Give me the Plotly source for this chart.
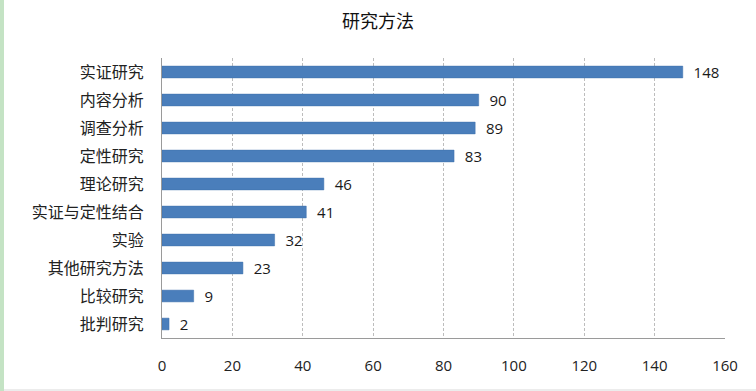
import plotly.graph_objects as go

categories = ["实证研究", "内容分析", "调查分析", "定性研究", "理论研究",
              "实证与定性结合", "实验", "其他研究方法", "比较研究", "批判研究"]
values = [148, 90, 89, 83, 46, 41, 32, 23, 9, 2]
x_ticks = [0, 20, 40, 60, 80, 100, 120, 140, 160]

W, H = 756, 391
ml, mr, mt, mb = 162, 31, 58, 53
pw = W - ml - mr
ph = H - mt - mb

fig = go.Figure(go.Bar(
    x=values, y=categories, orientation="h",
    marker=dict(color="#4a7ebb", line=dict(color="#3f70ad", width=0.5)),
    text=["\u00a0\u00a0" + str(v) for v in values], textposition="outside",
    textfont=dict(family="Open Sans, Liberation Sans, sans-serif", size=15, color="#1a1a1a"),
    constraintext="none",
    cliponaxis=False,
    width=0.42,
))

fig.update_layout(
    width=W, height=H,
    margin=dict(l=ml, r=mr, t=mt, b=mb, autoexpand=False),
    paper_bgcolor="white", plot_bgcolor="white",
    showlegend=False,
    title=dict(text="研究方法", x=0.5, xanchor="center", y=1 - 22 / H, yanchor="middle",
               font=dict(family="Noto Sans CJK SC", size=18, color="#111")),
    xaxis=dict(range=[0, 160], tickvals=x_ticks, showgrid=True, automargin=False,
               gridcolor="#bdbdbd", griddash="3px,2px", gridwidth=1,
               showline=True, linecolor="#9a9a9a", linewidth=1,
               zeroline=False, ticks="", ticklabelstandoff=14,
               tickfont=dict(family="Open Sans, Liberation Sans, sans-serif", size=15, color="#222")),
    yaxis=dict(autorange="reversed", showgrid=False, showline=True, automargin=False,
               linecolor="#9a9a9a", linewidth=1, ticks="", ticklabelstandoff=14,
               tickfont=dict(family="Noto Sans CJK SC", size=16, color="#222")),
    shapes=[
        dict(type="line", xref="paper", yref="paper",
             x0=(2 - ml) / pw, x1=(2 - ml) / pw, y0=-mb / ph, y1=1 + mt / ph,
             line=dict(color="#c4e3c4", width=4)),
        dict(type="line", xref="paper", yref="paper",
             x0=(4 - ml) / pw, x1=1 + mr / pw, y0=(1 - mb) / ph, y1=(1 - mb) / ph,
             line=dict(color="#d9d9d9", width=1)),
    ],
)

fig.write_html("out.html", config={"displayModeBar": False},
               post_script="document.body.style.margin='0';")
